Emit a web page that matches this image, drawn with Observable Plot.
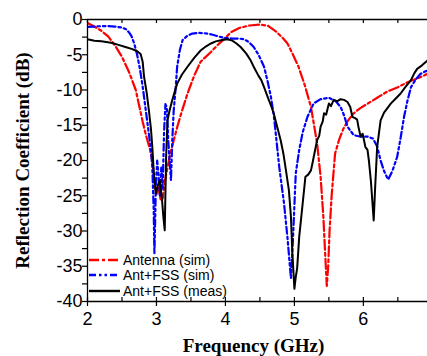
<!DOCTYPE html>
<html><head><meta charset="utf-8">
<script src="https://cdn.jsdelivr.net/npm/d3@7"></script>
<script src="https://cdn.jsdelivr.net/npm/@observablehq/plot@0.6"></script>
<style>
body{margin:0;background:#fff}
#wrap{position:relative;width:427px;height:356px;overflow:hidden}
#legend{position:absolute;left:89px;top:252px;font:14px "Liberation Sans",Arial,sans-serif;color:#000}
.row{height:15.5px;display:flex;align-items:center;white-space:nowrap}
.row svg{margin-right:3px}
</style></head><body><div id="wrap"></div>
<script>
// ---- data ----
const seriesNames = ["Antenna (sim)", "Ant+FSS (sim)", "Ant+FSS (meas)"];
const seriesColors = ["#ff0000", "#0000ff", "#000000"];
const seriesDash = ["10,3,3,3", "7,3,2.5,3,2.5,3", null];

const antFreq = [2.0,2.1,2.2,2.3,2.4,2.5,2.6,2.7,2.8,2.85,2.9,2.94,2.97,3.0,3.03,3.06,3.09,3.12,3.16,3.2,3.3,3.35,3.45,3.55,3.64,3.79,3.9,3.98,4.08,4.2,4.35,4.5,4.62,4.72,4.82,4.9,4.98,5.06,5.15,5.24,5.33,5.38,5.42,5.45,5.47,5.49,5.51,5.54,5.59,5.65,5.71,5.78,5.85,5.95,6.05,6.2,6.35,6.5,6.64,6.8,6.93];
const antDb = [-0.5,-1.0,-1.6,-2.4,-3.7,-5.3,-7.4,-10,-14.5,-16.5,-18.2,-20,-23,-24.8,-23.8,-25.5,-25.4,-23,-21,-19,-15.3,-13.6,-10.5,-7.9,-6,-4.6,-3.5,-2.8,-1.8,-1.2,-0.85,-0.72,-0.9,-1.6,-2.5,-3.4,-5,-6.7,-9.3,-12.4,-17.6,-22.3,-28,-34,-37.8,-35,-30,-25,-19,-17,-15.5,-14.3,-13.4,-12.6,-12,-11.1,-10.2,-9.6,-8.9,-8.3,-7.7];

const fssSimFreq = [2.0,2.1,2.2,2.3,2.4,2.5,2.56,2.6,2.64,2.68,2.72,2.76,2.8,2.84,2.88,2.92,2.94,2.96,2.97,2.98,2.99,3.01,3.03,3.05,3.07,3.09,3.11,3.13,3.15,3.17,3.19,3.21,3.23,3.25,3.28,3.3,3.34,3.38,3.45,3.52,3.6,3.7,3.79,3.9,3.98,4.1,4.2,4.27,4.34,4.41,4.48,4.56,4.61,4.66,4.7,4.73,4.78,4.85,4.9,4.95,4.98,5.02,5.07,5.12,5.19,5.28,5.38,5.5,5.6,5.67,5.72,5.77,5.86,5.95,6.06,6.14,6.2,6.25,6.3,6.36,6.42,6.49,6.54,6.59,6.64,6.69,6.76,6.83,6.93];
const fssSimDb = [-1.05,-1.0,-0.95,-0.95,-1.0,-1.15,-1.4,-1.8,-2.4,-3.5,-5,-7,-9.5,-12.5,-15.5,-18.5,-21,-27,-33.2,-29,-24,-20,-22,-25,-21,-24,-16,-12,-12.5,-17,-20,-22.8,-17,-12.9,-9.5,-6.7,-4.3,-2.9,-2.3,-2.0,-1.9,-1.95,-2.1,-2.4,-2.6,-2.7,-2.7,-2.8,-3.2,-3.9,-5,-6.7,-8.7,-11,-13.5,-16.2,-20.9,-26.1,-31,-36.7,-31,-21.8,-18.5,-16,-13.8,-11.9,-11.3,-11.1,-11.6,-12.4,-13.6,-15.2,-16.4,-16.6,-16.6,-16.9,-18,-20,-21.5,-22.7,-21.5,-19.5,-16.8,-13.8,-11.5,-9.6,-8.5,-7.7,-7.2];

const measFreq = [2.0,2.1,2.2,2.34,2.45,2.55,2.65,2.72,2.77,2.8,2.82,2.86,2.89,2.92,2.94,2.96,2.99,3.02,3.05,3.08,3.1,3.12,3.14,3.16,3.19,3.23,3.3,3.37,3.45,3.55,3.64,3.72,3.79,3.86,3.95,4.03,4.1,4.16,4.22,4.3,4.36,4.41,4.48,4.52,4.56,4.62,4.66,4.7,4.75,4.8,4.84,4.87,4.92,4.95,4.97,5.0,5.02,5.04,5.07,5.1,5.12,5.16,5.2,5.24,5.26,5.28,5.33,5.36,5.38,5.41,5.43,5.46,5.5,5.53,5.57,5.62,5.67,5.72,5.77,5.81,5.84,5.88,5.91,5.93,5.96,5.99,6.03,6.06,6.08,6.11,6.15,6.17,6.2,6.25,6.3,6.4,6.47,6.54,6.6,6.69,6.74,6.78,6.85,6.93];
const measDb = [-2.8,-3.0,-3.1,-3.3,-3.6,-3.9,-4.2,-4.5,-4.9,-6.0,-8.1,-10.5,-12.9,-15.5,-18.1,-21.5,-24.7,-23.5,-22.8,-25.5,-28,-29.9,-19.5,-14.3,-12.9,-11.4,-9.1,-7.8,-6.7,-5.4,-4.4,-3.8,-3.4,-3.1,-2.9,-2.8,-3.0,-3.4,-3.9,-4.8,-5.7,-6.7,-8.0,-8.6,-9.6,-11.2,-12.2,-13.3,-15.2,-17.1,-19,-20.9,-24.2,-28,-33,-38.2,-36.5,-35.3,-30.8,-28,-26.1,-22.3,-22,-21.4,-20.5,-19.5,-17.1,-16.5,-15.2,-14.5,-13.3,-13.5,-11.9,-12.3,-11.4,-11.6,-11.3,-11.4,-11.7,-12.4,-13.8,-14.0,-14.2,-15.3,-16.6,-16.2,-18.1,-18.5,-20,-23,-28.5,-24,-18.1,-14.3,-13.2,-11.9,-11.2,-10.5,-9.7,-8.6,-7.6,-7.0,-6.5,-5.8];

const xMajor = [2,3,4,5,6];
const xAllTicks = [2,2.5,3,3.5,4,4.5,5,5.5,6,6.5];
const yTicks = [0,-2.5,-5,-7.5,-10,-12.5,-15,-17.5,-20,-22.5,-25,-27.5,-30,-32.5,-35,-37.5,-40];
const xLabel = "Frequency (GHz)";
const yLabel = "Reflection Coefficient (dB)";

// ---- build ----
const toRows = (fs, ds) => fs.map((f, i) => ({f, db: ds[i]}));
const series = [toRows(antFreq, antDb), toRows(fssSimFreq, fssSimDb), toRows(measFreq, measDb)];

const W = 427, H = 356, mL = 87, mT = 19, mB = 55, mR = 0;
const frameH = H - mT - mB;
const tickFont = {fontSize: 18, fontFamily: "Liberation Sans, Arial, sans-serif"};
const labelFont = {fontSize: 19, fontWeight: "bold", fontFamily: "Liberation Serif, Times New Roman, serif", fill: "#000"};

const chart = Plot.plot({
  width: W, height: H,
  marginLeft: mL, marginTop: mT, marginBottom: mB, marginRight: mR,
  style: {background: "#fff", color: "#000", overflow: "visible"},
  x: {domain: [2, 6.93], label: null},
  y: {domain: [-40, 0], label: null},
  marks: [
    ...series.map((rows, i) => Plot.line(rows, {
      x: "f", y: "db", stroke: seriesColors[i], strokeWidth: i === 2 ? 2 : 2.2,
      strokeDasharray: seriesDash[i], clip: true, curve: "linear"
    })),
    Plot.ruleX([2], {stroke: "#000", strokeWidth: 1.3}),
    Plot.ruleY([0], {stroke: "#000", strokeWidth: 1.3}),
    Plot.ruleY([-40], {stroke: "#000", strokeWidth: 1.3}),
    Plot.axisY(yTicks, {anchor: "left", tickSize: 5, tickPadding: 0, strokeWidth: 1.2,
      tickFormat: d => (d % 5 === 0 ? String(d) : ""), ...tickFont, label: null}),
    Plot.axisX(xMajor, {anchor: "bottom", tickSize: 5, tickPadding: 6, strokeWidth: 1.2,
      tickFormat: d => String(d), ...tickFont, label: null}),
    Plot.tickX(xAllTicks, {x: d => d, insetTop: frameH - 4, stroke: "#000", strokeWidth: 1.2}),
    Plot.tickX(xAllTicks, {x: d => d, insetBottom: frameH - 4, stroke: "#000", strokeWidth: 1.2}),
    Plot.text([yLabel], {frameAnchor: "left", dx: -65, rotate: -90, textAnchor: "middle", ...labelFont}),
    Plot.text([xLabel], {frameAnchor: "bottom", dy: 50, dx: -4, lineAnchor: "bottom", textAnchor: "middle", ...labelFont})
  ]
});

const wrap = document.getElementById("wrap");
wrap.appendChild(chart);

// legend overlay inside the plot area
const legend = document.createElement("div");
legend.id = "legend";
seriesNames.forEach((name, i) => {
  const row = document.createElement("div");
  row.className = "row";
  const dash = seriesDash[i] ? `stroke-dasharray="${seriesDash[i]}"` : "";
  row.innerHTML = `<svg width="31" height="10"><line x1="0" y1="5" x2="31" y2="5" stroke="${seriesColors[i]}" stroke-width="2.4" ${dash}/></svg><span>${name}</span>`;
  legend.appendChild(row);
});
wrap.appendChild(legend);
</script>
</body></html>
